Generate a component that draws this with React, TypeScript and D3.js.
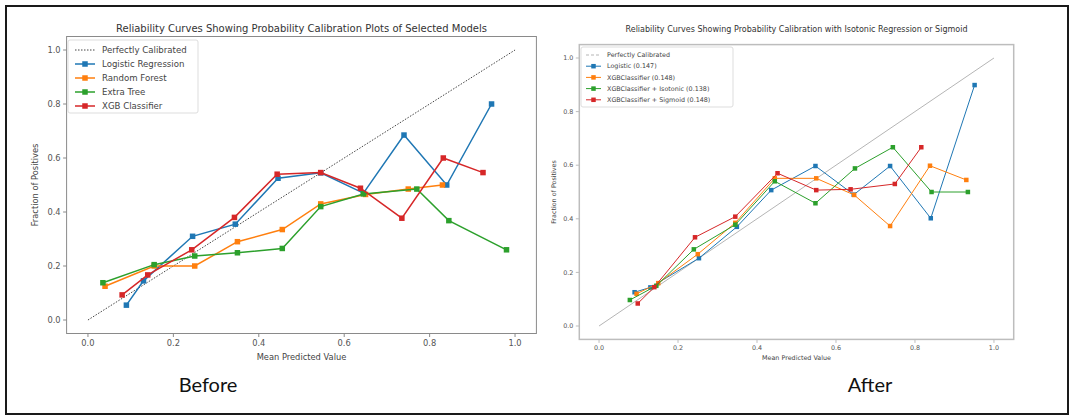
import React, { useEffect, useRef } from "react";
import * as d3 from "d3";

// ---- data ----
const ticks = [0, 0.2, 0.4, 0.6, 0.8, 1.0];
const tickLabels = ["0.0", "0.2", "0.4", "0.6", "0.8", "1.0"];

// Before
const lrX = [0.09, 0.13, 0.245, 0.345, 0.445, 0.545, 0.645, 0.74, 0.84, 0.945];
const lrY = [0.055, 0.145, 0.31, 0.355, 0.525, 0.545, 0.47, 0.685, 0.5, 0.8];
const rfX = [0.04, 0.155, 0.25, 0.35, 0.455, 0.545, 0.65, 0.75, 0.83];
const rfY = [0.125, 0.2, 0.2, 0.29, 0.335, 0.43, 0.465, 0.485, 0.5];
const etX = [0.035, 0.155, 0.25, 0.35, 0.455, 0.545, 0.645, 0.77, 0.845, 0.98];
const etY = [0.138, 0.205, 0.237, 0.249, 0.265, 0.42, 0.467, 0.485, 0.368, 0.26];
const xgbX = [0.08, 0.14, 0.243, 0.343, 0.443, 0.545, 0.638, 0.735, 0.832, 0.925];
const xgbY = [0.093, 0.167, 0.26, 0.38, 0.54, 0.546, 0.488, 0.377, 0.6, 0.546];
const beforeNames = ["Perfectly Calibrated", "Logistic Regression", "Random Forest", "Extra Tree", "XGB Classifier"];

// After
const logX = [0.09, 0.13, 0.253, 0.349, 0.436, 0.548, 0.645, 0.737, 0.84, 0.951];
const logY = [0.126, 0.144, 0.253, 0.37, 0.507, 0.597, 0.49, 0.597, 0.402, 0.899];
const xgX = [0.095, 0.15, 0.25, 0.345, 0.445, 0.55, 0.646, 0.737, 0.838, 0.93];
const xgY = [0.12, 0.16, 0.268, 0.385, 0.551, 0.551, 0.489, 0.373, 0.598, 0.545];
const isoX = [0.078, 0.145, 0.24, 0.345, 0.445, 0.548, 0.648, 0.744, 0.842, 0.934];
const isoY = [0.097, 0.15, 0.286, 0.378, 0.54, 0.458, 0.588, 0.667, 0.5, 0.5];
const sigX = [0.098, 0.14, 0.243, 0.345, 0.452, 0.55, 0.637, 0.749, 0.816];
const sigY = [0.084, 0.145, 0.331, 0.408, 0.57, 0.507, 0.51, 0.53, 0.667];
const afterNames = [
  "Perfectly Calibrated",
  "Logistic (0.147)",
  "XGBClassifier (0.148)",
  "XGBClassifier + Isotonic (0.138)",
  "XGBClassifier + Sigmoid (0.148)",
];

const colors = ["#1f77b4", "#ff7f0e", "#2ca02c", "#d62728"];
const font = "DejaVu Sans, sans-serif";

const zip = (xs, ys) => xs.map((x, i) => [x, ys[i]]);

function drawPanel(svg, o) {
  const x = d3.scaleLinear().domain([-0.05, 1.05]).range([o.left, o.right]);
  const y = d3.scaleLinear().domain([-0.05, 1.05]).range([o.bottom, o.top]);
  const g = svg.append("g").attr("font-family", font);

  g.append("text")
    .attr("x", (o.left + o.right) / 2)
    .attr("y", o.titleY)
    .attr("text-anchor", "middle")
    .attr("font-size", o.titleSize)
    .attr("fill", "#333")
    .text(o.title);

  // diagonal
  g.append("line")
    .attr("x1", x(0)).attr("y1", y(0))
    .attr("x2", x(1)).attr("y2", y(1))
    .attr("stroke", o.diagColor)
    .attr("stroke-width", 1)
    .attr("stroke-dasharray", o.diagDash);

  const line = d3.line().x(d => x(d[0])).y(d => y(d[1]));
  o.series.forEach((s, i) => {
    const pts = zip(s[0], s[1]);
    g.append("path")
      .attr("d", line(pts))
      .attr("fill", "none")
      .attr("stroke", colors[i])
      .attr("stroke-width", o.lw);
    g.append("g").selectAll("rect").data(pts).join("rect")
      .attr("x", d => x(d[0]) - o.ms / 2)
      .attr("y", d => y(d[1]) - o.ms / 2)
      .attr("width", o.ms).attr("height", o.ms)
      .attr("fill", colors[i]);
  });

  // frame
  g.append("rect")
    .attr("x", o.left).attr("y", o.top)
    .attr("width", o.right - o.left).attr("height", o.bottom - o.top)
    .attr("fill", "none").attr("stroke", o.frame).attr("stroke-width", o.frameW);

  // ticks
  const xt = g.append("g").attr("font-size", o.tickSize).attr("fill", "#555");
  ticks.forEach((t, i) => {
    xt.append("line").attr("x1", x(t)).attr("x2", x(t))
      .attr("y1", o.bottom).attr("y2", o.bottom + 3.5).attr("stroke", o.frame);
    xt.append("text").attr("x", x(t)).attr("y", o.bottom + 4 + o.tickSize)
      .attr("text-anchor", "middle").text(tickLabels[i]);
    xt.append("line").attr("y1", y(t)).attr("y2", y(t))
      .attr("x1", o.left).attr("x2", o.left - 3.5).attr("stroke", o.frame);
    xt.append("text").attr("x", o.left - 6).attr("y", y(t)).attr("dy", "0.35em")
      .attr("text-anchor", "end").text(tickLabels[i]);
  });

  g.append("text")
    .attr("x", (o.left + o.right) / 2).attr("y", o.xLabelY)
    .attr("text-anchor", "middle").attr("font-size", o.tickSize).attr("fill", "#444")
    .text("Mean Predicted Value");
  g.append("text")
    .attr("transform", `translate(${o.yLabelX},${(o.top + o.bottom) / 2}) rotate(-90)`)
    .attr("text-anchor", "middle").attr("font-size", o.tickSize).attr("fill", "#444")
    .text("Fraction of Positives");

  // legend
  const L = o.legend;
  g.append("rect")
    .attr("x", L.x).attr("y", L.y).attr("width", L.w).attr("height", L.h)
    .attr("rx", 2).attr("fill", "white").attr("fill-opacity", 0.8)
    .attr("stroke", "#ddd");
  o.names.forEach((n, i) => {
    const yy = L.y + L.first + i * L.step;
    g.append("line")
      .attr("x1", L.x + L.lx).attr("x2", L.x + L.lx + L.lw)
      .attr("y1", yy).attr("y2", yy)
      .attr("stroke", i === 0 ? o.diagColor : colors[i - 1])
      .attr("stroke-width", i === 0 ? 1 : o.lw)
      .attr("stroke-dasharray", i === 0 ? o.legendDash : null);
    if (i > 0)
      g.append("rect")
        .attr("x", L.x + L.lx + L.lw / 2 - o.ms / 2).attr("y", yy - o.ms / 2)
        .attr("width", o.ms).attr("height", o.ms).attr("fill", colors[i - 1]);
    g.append("text")
      .attr("x", L.x + L.tx).attr("y", yy).attr("dy", "0.35em")
      .attr("font-size", L.size).attr("fill", "#444")
      .text(n);
  });
}

export default function App() {
  const ref = useRef(null);
  useEffect(() => {
    document.body.style.margin = "0";
    const svg = d3.select(ref.current);
    svg.selectAll("*").remove();

    svg.append("rect").attr("width", 1071).attr("height", 417).attr("fill", "white");
    svg.append("rect")
      .attr("x", 6).attr("y", 6).attr("width", 1062).attr("height", 408)
      .attr("fill", "none").attr("stroke", "#1a1a1a").attr("stroke-width", 2);

    drawPanel(svg, {
      left: 66.6, right: 536.4, top: 36.5, bottom: 333.5,
      title: "Reliability Curves Showing Probability Calibration Plots of Selected Models",
      titleY: 31.5, titleSize: 10,
      tickSize: 8.3, xLabelY: 360, yLabelX: 38,
      diagColor: "#444", diagDash: "1.5,1.5", legendDash: "1.5,1.5",
      lw: 1.5, ms: 5.5, frame: "#8a8a8a", frameW: 1,
      series: [[lrX, lrY], [rfX, rfY], [etX, etY], [xgbX, xgbY]],
      names: beforeNames,
      legend: { x: 68, y: 40, w: 130, h: 73, first: 10, step: 14, lx: 7, lw: 20, tx: 34, size: 8.6 },
    });

    drawPanel(svg, {
      left: 579.3, right: 1013.7, top: 44.6, bottom: 339.4,
      title: "Reliability Curves Showing Probability Calibration with Isotonic Regression or Sigmoid",
      titleY: 32, titleSize: 8,
      tickSize: 6.4, xLabelY: 360, yLabelX: 556,
      diagColor: "#b5b5b5", diagDash: null, legendDash: "3,2",
      lw: 1, ms: 4.5, frame: "#bdbdbd", frameW: 1.5,
      series: [[logX, logY], [xgX, xgY], [isoX, isoY], [sigX, sigY]],
      names: afterNames,
      legend: { x: 581, y: 47, w: 152, h: 60, first: 8, step: 11.2, lx: 5, lw: 15, tx: 26, size: 6.4 },
    });

    svg.append("text").attr("x", 208).attr("y", 392).attr("text-anchor", "middle")
      .attr("font-family", "Lato, sans-serif").attr("font-size", 20).attr("fill", "#111")
      .text("Before");
    svg.append("text").attr("x", 870).attr("y", 392).attr("text-anchor", "middle")
      .attr("font-family", "Lato, sans-serif").attr("font-size", 20).attr("fill", "#111")
      .text("After");
  }, []);

  return <svg ref={ref} width={1071} height={417} style={{ display: "block" }} />;
}
